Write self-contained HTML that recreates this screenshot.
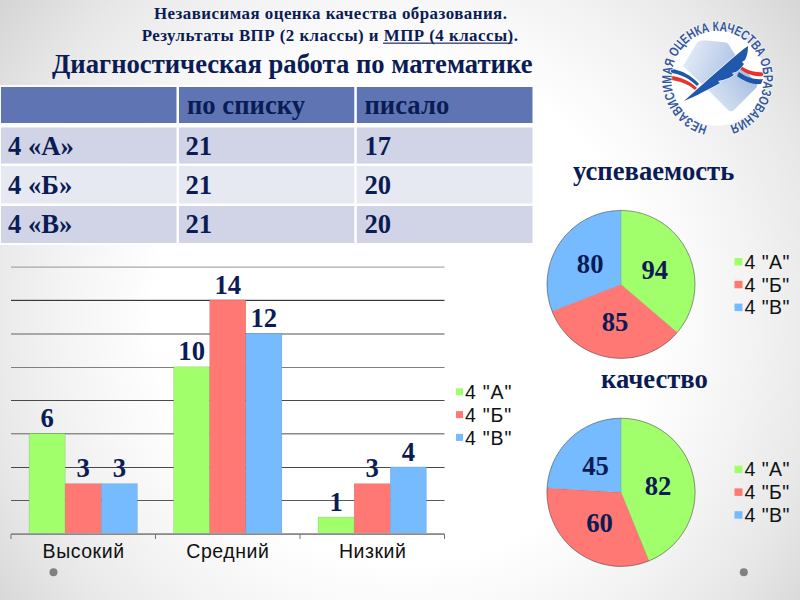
<!DOCTYPE html>
<html><head><meta charset="utf-8">
<style>
html,body{margin:0;padding:0;width:800px;height:600px;overflow:hidden;background:#fff}
svg{display:block}
.sb{font-family:"Liberation Serif",serif;font-weight:bold;fill:#0b1c55}
.ss{font-family:"Liberation Sans",sans-serif;fill:#111}
</style></head><body>
<svg width="800" height="600" viewBox="0 0 800 600">
<defs>
<radialGradient id="bg" cx="405" cy="315" r="515" gradientUnits="userSpaceOnUse">
<stop offset="0.48" stop-color="#ffffff"/>
<stop offset="0.66" stop-color="#f4f4f4"/>
<stop offset="0.82" stop-color="#e8e8e8"/>
<stop offset="1" stop-color="#d4d4d4"/>
</radialGradient>
</defs>
<rect width="800" height="600" fill="url(#bg)"/>

<!-- titles -->
<text class="sb" x="154" y="18.8" font-size="16.9" letter-spacing="0.47">Независимая оценка качества образования.</text>
<text class="sb" x="141.7" y="40.8" font-size="16.9" letter-spacing="0.47">Результаты ВПР (2 классы) и МПР (4 классы).</text>
<text class="sb" x="52" y="72.5" font-size="26.67">Диагностическая работа по математике</text>

<rect x="383" y="42.6" width="129.5" height="1.1" fill="#0b1c55"/>
<!-- table -->
<g>
<rect x="0" y="85" width="534" height="160" fill="#fff" opacity="0.9"/>
<rect x="1" y="87" width="531.5" height="36" fill="#5f75b3"/>
<rect x="1" y="127.5" width="531.5" height="36" fill="#d0d4e6"/>
<rect x="1" y="166" width="531.5" height="37.5" fill="#e7e9f2"/>
<rect x="1" y="206" width="531.5" height="37" fill="#d0d4e6"/>
<rect x="176.5" y="85" width="2.5" height="160" fill="#fff"/>
<rect x="354.3" y="85" width="2.5" height="160" fill="#fff"/>
</g>
<text class="sb" x="187" y="114.3" font-size="26.67">по списку</text>
<text class="sb" x="364.5" y="114.3" font-size="26.67">писало</text>
<text class="sb" x="8" y="154.5" font-size="26.67">4 «А»</text>
<text class="sb" x="185.5" y="154.5" font-size="26.67">21</text>
<text class="sb" x="364.5" y="154.5" font-size="26.67">17</text>
<text class="sb" x="8" y="193.8" font-size="26.67">4 «Б»</text>
<text class="sb" x="185.5" y="193.8" font-size="26.67">21</text>
<text class="sb" x="364.5" y="193.8" font-size="26.67">20</text>
<text class="sb" x="8" y="232.5" font-size="26.67">4 «В»</text>
<text class="sb" x="185.5" y="232.5" font-size="26.67">21</text>
<text class="sb" x="364.5" y="232.5" font-size="26.67">20</text>

<!-- bar chart -->
<g>
<rect x="11" y="266.6" width="433.5" height="1" fill="#959595"/>
<rect x="11" y="299.8" width="433.5" height="1.2" fill="#3a3a3a"/>
<rect x="11" y="333" width="433.5" height="2" fill="#a8a8a8"/>
<rect x="11" y="367" width="433.5" height="1" fill="#808080"/>
<rect x="11" y="400" width="433.5" height="1" fill="#4a4a4a"/>
<rect x="11" y="433" width="433.5" height="1" fill="#8a8a8a"/>
<rect x="11" y="434" width="433.5" height="1" fill="#c4c4c4"/>
<rect x="11" y="467" width="433.5" height="1" fill="#484848"/>
<rect x="11" y="500" width="433.5" height="1" fill="#5a5a5a"/>
</g><g stroke="rgba(0,0,0,0.16)" stroke-width="0.6">
<rect x="29.10" y="433.55" width="36.1" height="100.20" fill="#a0ff6a"/>
<rect x="65.20" y="483.65" width="36.1" height="50.10" fill="#ff7874"/>
<rect x="101.30" y="483.65" width="36.1" height="50.10" fill="#76baff"/>
<rect x="173.60" y="366.75" width="36.1" height="167.00" fill="#a0ff6a"/>
<rect x="209.70" y="299.95" width="36.1" height="233.80" fill="#ff7874"/>
<rect x="245.80" y="333.35" width="36.1" height="200.40" fill="#76baff"/>
<rect x="318.10" y="517.05" width="36.1" height="16.70" fill="#a0ff6a"/>
<rect x="354.20" y="483.65" width="36.1" height="50.10" fill="#ff7874"/>
<rect x="390.30" y="466.95" width="36.1" height="66.80" fill="#76baff"/>
</g>
<rect x="11" y="533" width="433.5" height="1" fill="#a0a0a0"/>
<rect x="11" y="534" width="433.5" height="1" fill="#8a8a8a"/>
<g fill="#707070">
<rect x="10.5" y="534" width="1" height="5"/>
<rect x="155.0" y="534" width="1" height="5"/>
<rect x="299.5" y="534" width="1" height="5"/>
<rect x="444.0" y="534" width="1" height="5"/>
</g>
<g class="sb" font-size="26.67" text-anchor="middle">
<text x="47.15" y="427.25">6</text>
<text x="83.25" y="477.35">3</text>
<text x="119.35" y="477.35">3</text>
<text x="191.65" y="360.45">10</text>
<text x="227.75" y="293.65">14</text>
<text x="263.85" y="327.05">12</text>
<text x="336.15" y="510.75">1</text>
<text x="372.25" y="477.35">3</text>
<text x="408.35" y="460.65">4</text>
</g>
<g class="ss" font-size="19.5" letter-spacing="0.55" text-anchor="middle">
<text x="83.6" y="557.5">Высокий</text>
<text x="227.9" y="557.5">Средний</text>
<text x="372.7" y="557.5">Низкий</text>
</g>
<!-- bar legend -->
<g>
<rect x="456" y="388.3" width="7" height="7" fill="#a0ff6a"/>
<rect x="456" y="411.1" width="7" height="7" fill="#ff7874"/>
<rect x="456" y="433.9" width="7" height="7" fill="#76baff"/>
</g>
<g class="ss" font-size="19.5" letter-spacing="0.8">
<text x="465" y="399">4 "А"</text>
<text x="465" y="421.8">4 "Б"</text>
<text x="465" y="444.6">4 "В"</text>
</g>

<!-- pie 1 -->
<text class="sb" x="573" y="179.7" font-size="26.67">успеваемость</text>
<g id="pie1">
<path d="M621,284.4 L621.00,210.40 A74,74 0 0 1 677.14,332.61 Z" fill="#a0ff6a" stroke="rgba(0,0,0,0.12)" stroke-width="0.6"/>
<path d="M621,284.4 L677.14,332.61 A74,74 0 0 1 552.01,311.16 Z" fill="#ff7874" stroke="rgba(0,0,0,0.12)" stroke-width="0.6"/>
<path d="M621,284.4 L552.01,311.16 A74,74 0 0 1 621.00,210.40 Z" fill="#76baff" stroke="rgba(0,0,0,0.12)" stroke-width="0.6"/>
<circle cx="621" cy="284.4" r="74" fill="none" stroke="rgba(50,50,50,0.55)" stroke-width="0.8"/>
<g class="sb" font-size="26.67" text-anchor="middle">
<text x="654.8" y="279">94</text><text x="615" y="331">85</text><text x="590.2" y="272.5">80</text>
</g></g>
<!-- pie 2 -->
<text class="sb" x="601" y="388.1" font-size="26.67">качество</text>
<g id="pie2">
<path d="M621,492.3 L621.00,418.20 A74.1,74.1 0 0 1 648.92,560.94 Z" fill="#a0ff6a" stroke="rgba(0,0,0,0.12)" stroke-width="0.6"/>
<path d="M621,492.3 L648.92,560.94 A74.1,74.1 0 0 1 547.03,487.95 Z" fill="#ff7874" stroke="rgba(0,0,0,0.12)" stroke-width="0.6"/>
<path d="M621,492.3 L547.03,487.95 A74.1,74.1 0 0 1 621.00,418.20 Z" fill="#76baff" stroke="rgba(0,0,0,0.12)" stroke-width="0.6"/>
<circle cx="621" cy="492.3" r="74.1" fill="none" stroke="rgba(50,50,50,0.55)" stroke-width="0.8"/>
<g class="sb" font-size="26.67" text-anchor="middle">
<text x="658" y="495">82</text><text x="599.6" y="531.7">60</text><text x="595.5" y="475">45</text>
</g></g>

<!-- pie legends -->
<g>
<rect x="734.5" y="258" width="8" height="7.5" fill="#a0ff6a"/>
<rect x="734.5" y="280.8" width="8" height="7.5" fill="#ff7874"/>
<rect x="734.5" y="303.6" width="8" height="7.5" fill="#76baff"/>
<rect x="734.5" y="465.6" width="8" height="7.5" fill="#a0ff6a"/>
<rect x="734.5" y="488.4" width="8" height="7.5" fill="#ff7874"/>
<rect x="734.5" y="511.2" width="8" height="7.5" fill="#76baff"/>
</g>
<g class="ss" font-size="19.5" letter-spacing="0.45">
<text x="744.5" y="268.7">4 "А"</text>
<text x="744.5" y="291.5">4 "Б"</text>
<text x="744.5" y="314.3">4 "В"</text>
<text x="744.5" y="476.2">4 "А"</text>
<text x="744.5" y="499">4 "Б"</text>
<text x="744.5" y="521.8">4 "В"</text>
</g>

<!-- dots -->
<circle cx="53.5" cy="572.3" r="4" fill="#808080"/>
<circle cx="743.8" cy="572.3" r="4" fill="#808080"/>

<!-- logo -->
<g id="logo">
<defs>
<linearGradient id="pg1" x1="0" y1="0" x2="1" y2="0.3">
<stop offset="0" stop-color="#eaf0f8"/><stop offset="1" stop-color="#aec3e5"/>
</linearGradient>
<linearGradient id="pg2" x1="0" y1="0.6" x2="1" y2="0">
<stop offset="0" stop-color="#dbe5f3"/><stop offset="1" stop-color="#9db6de"/>
</linearGradient>
<path id="ring" d="M707.47,125.84 A46,48 0 1 1 729.41,125.36"/>
</defs>
<circle cx="717.5" cy="78" r="47.5" fill="#fff"/>
<path d="M700,41 Q703,40 707,40.5 L726,42.5 Q728,43 729,45 L742,66 L722,80 L704,86 L683,66 L697,43 Q698,41.5 700,41 Z" fill="url(#pg1)"/>
<path d="M742,66 L756,83 Q758,86 756,88 L734,110 Q731,112.5 728,110 L704,86 L722,80 Z" fill="url(#pg2)"/>
<path d="M676,95 L752,40 L722,86 Z" fill="#fff" opacity="0"/>
<path d="M671,69 C682,70 692,76 699,84 L697,86 C690,79 681,74 671,73 Z" fill="#1f56a8"/>
<path d="M671,76 C682,77 691,82 697,88 L695,90 C688,84 680,81 671,80 Z" fill="#e8322c"/>
<path d="M741,66 C748,71 756,73 764,72 L763,76 C755,77 746,74 740,69 Z" fill="#e8322c"/>
<path d="M739,72 C746,77 754,80 763,79 L761,84 C752,85 744,81 737,76 Z" fill="#1f56a8"/>
<path d="M684,101 C695,91 712,76 727,63 C735,56 742,50 748,46 C748,52 747,56 745,60 L742,62 L744,64 C741,68 739,70 736,72 L732,73 L734,75 C731,77 727,79 723,80 L718,81 L720,83 C715,86 709,89 703,92 C696,96 690,98 684,101 Z" fill="#1f58ad" stroke="#fff" stroke-width="1.2" paint-order="stroke"/>
<text font-family="Liberation Sans, sans-serif" font-weight="bold" font-size="13.5" fill="#34589a" stroke="#fff" stroke-width="1.4" stroke-opacity="0.9" paint-order="stroke"><textPath href="#ring" textLength="272.2" lengthAdjust="spacingAndGlyphs">НЕЗАВИСИМАЯ ОЦЕНКА КАЧЕСТВА ОБРАЗОВАНИЯ</textPath></text>
</g>
</svg>
</body></html>
